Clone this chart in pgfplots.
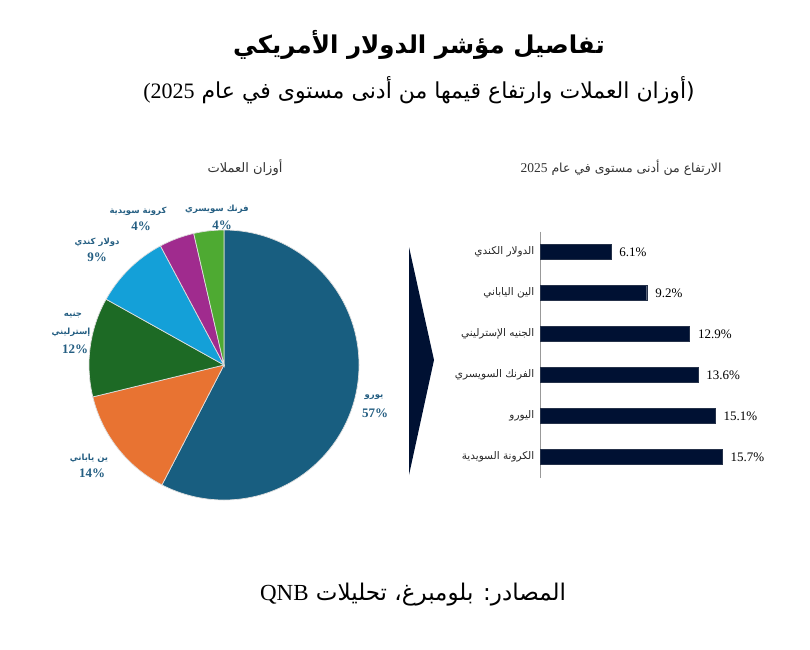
\documentclass[border=0pt]{standalone}
\usepackage{fontspec}
\setmainfont{Liberation Serif}
\newfontfamily\arabicfont[Script=Arabic]{DejaVu Sans}
\TeXXeTstate=1
\usepackage{pgfplots}
\pgfplotsset{compat=1.18}

\definecolor{eur}{RGB}{24,94,128}
\definecolor{jpy}{RGB}{232,115,50}
\definecolor{gbp}{RGB}{29,106,37}
\definecolor{cad}{RGB}{20,160,216}
\definecolor{sek}{RGB}{160,43,142}
\definecolor{chf}{RGB}{78,170,50}
\definecolor{lbl}{RGB}{36,94,130}
\definecolor{navy}{RGB}{0,17,51}

% pie slice between cumulative shares #1 and #2 (percent), clockwise from 12 o'clock
\newcommand{\slice}[3]{%
  \fill[#3, draw=white!75!gray, line width=0.7pt]
    (axis cs:0,0) -- (axis cs:{cos(90-3.6*#1)},{sin(90-3.6*#1)})
    arc[start angle={90-3.6*#1}, end angle={90-3.6*#2}, radius=135pt] -- cycle;}

\begin{document}
\begin{tikzpicture}
\useasboundingbox (0,0) rectangle (810pt,649pt);

% titles
\node at (419pt,604pt) {\fontsize{24.5}{28}\selectfont\bfseries\arabicfont\beginR تفاصيل مؤشر الدولار الأمريكي\endR};
\node at (419pt,559pt) {\fontsize{22}{26}\selectfont\arabicfont\beginR (أوزان العملات وارتفاع قيمها من أدنى مستوى في عام \beginL{\rmfamily (2025}\endL\endR};

\node[text=black!80] at (245pt,481pt) {\fontsize{13}{15}\selectfont\arabicfont\beginR أوزان العملات\endR};
\node[text=black!80] at (621pt,481pt) {\fontsize{12.5}{15}\selectfont\arabicfont\beginR الارتفاع من أدنى مستوى في عام \beginL{\rmfamily\fontsize{13.5}{15}\selectfont 2025}\endL\endR};

% currency weights
\begin{axis}[
    at={(224pt,284pt)}, anchor=center,
    scale only axis, width=270pt, height=270pt,
    xmin=-1, xmax=1, ymin=-1, ymax=1,
    hide axis, clip=false,
]
\slice{0}{57.6}{eur}
\slice{57.6}{71.2}{jpy}
\slice{71.2}{83.1}{gbp}
\slice{83.1}{92.2}{cad}
\slice{92.2}{96.4}{sek}
\slice{96.4}{100}{chf}
\end{axis}

\begin{scope}[text=lbl, font=\bfseries]
\node at (374pt,252pt) {\fontsize{8.5}{10}\selectfont\arabicfont\beginR يورو\endR};
\node at (375pt,236pt) {\fontsize{13}{15}\selectfont 57\%};
\node at (89pt,191pt) {\fontsize{8.5}{10}\selectfont\arabicfont\beginR ين ياباني\endR};
\node at (92pt,176pt) {\fontsize{13}{15}\selectfont 14\%};
\node at (73pt,334pt) {\fontsize{8.5}{10}\selectfont\arabicfont\beginR جنيه\endR};
\node at (71pt,317pt) {\fontsize{8.5}{10}\selectfont\arabicfont\beginR إسترليني\endR};
\node at (75pt,300pt) {\fontsize{13}{15}\selectfont 12\%};
\node at (97pt,407pt) {\fontsize{8.5}{10}\selectfont\arabicfont\beginR دولار كندي\endR};
\node at (97pt,392pt) {\fontsize{13}{15}\selectfont 9\%};
\node at (138pt,438pt) {\fontsize{8.5}{10}\selectfont\arabicfont\beginR كرونة سويدية\endR};
\node at (141pt,423pt) {\fontsize{13}{15}\selectfont 4\%};
\node at (217pt,440pt) {\fontsize{8.5}{10}\selectfont\arabicfont\beginR فرنك سويسري\endR};
\node at (222pt,424pt) {\fontsize{13}{15}\selectfont 4\%};
\end{scope}

% chevron
\fill[navy] (409pt,402pt) -- (434pt,289pt) -- (409pt,174pt) -- cycle;

% rise from 2025 low
\begin{axis}[
    at={(540pt,417.5pt)}, anchor=north west,
    scale only axis, width=232pt, height=246pt,
    xbar, bar width=15pt,
    xmin=0, xmax=20, ymin=-0.5, ymax=5.5, y dir=reverse,
    axis x line=none, axis y line=left,
    axis line style={-, draw=gray!80, line width=0.8pt},
    ytick={0,...,5},
    yticklabels={
      {\arabicfont\beginR الدولار الكندي\endR},
      {\arabicfont\beginR الين الياباني\endR},
      {\arabicfont\beginR الجنيه الإسترليني\endR},
      {\arabicfont\beginR الفرنك السويسري\endR},
      {\arabicfont\beginR اليورو\endR},
      {\arabicfont\beginR الكرونة السويدية\endR}},
    ytick style={draw=none},
    yticklabel style={font=\fontsize{10.5}{12}\selectfont, text=black!85},
    /pgf/number format/assume math mode=true,
    nodes near coords={\pgfmathprintnumber[fixed, precision=1, fixed zerofill]{\pgfplotspointmeta}\%},
    every node near coord/.append style={font=\fontsize{13}{15}\selectfont, text=black, xshift=5pt},
    clip=false,
]
\addplot[fill=navy, draw=navy!70!gray] coordinates {
    (6.1,0) (9.2,1) (12.9,2) (13.6,3) (15.1,4) (15.7,5)
};
\end{axis}

% source
\node at (413pt,54pt) {\fontsize{23}{27}\selectfont\arabicfont\beginR المصادر: بلومبرغ، تحليلات \beginL{\rmfamily QNB}\endL\endR};
\end{tikzpicture}
\end{document}
